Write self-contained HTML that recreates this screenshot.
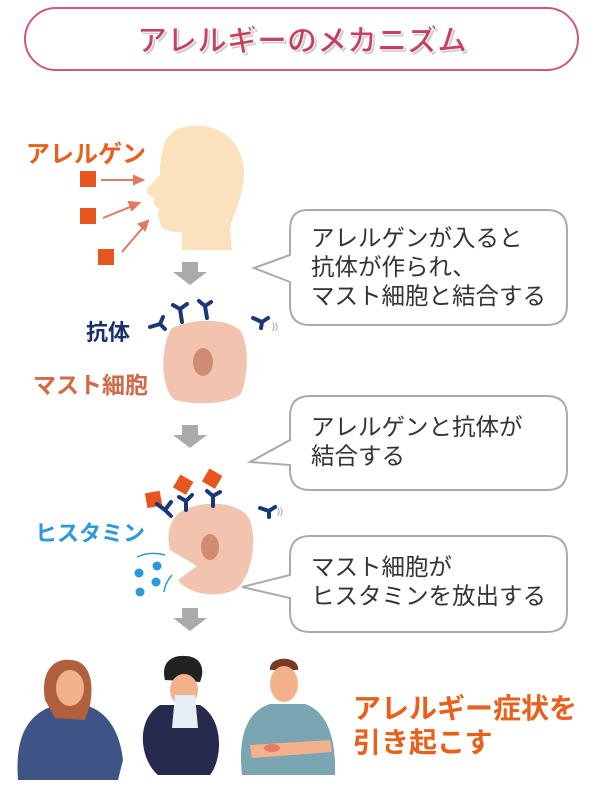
<!DOCTYPE html>
<html><head><meta charset="utf-8"><style>
body{margin:0;background:#fff;width:600px;height:803px;overflow:hidden}
svg text{font-family:"Liberation Sans","Noto Sans CJK JP",sans-serif}
</style></head><body>
<svg width="600" height="803" viewBox="0 0 600 803" xmlns="http://www.w3.org/2000/svg">
<rect x="25" y="8" width="553" height="62" rx="31" fill="#fff" stroke="#d0587a" stroke-width="2"/>
<text x="302" y="51" text-anchor="middle" font-size="30" font-weight="bold" fill="#ccc" transform="translate(2,2)">アレルギーのメカニズム</text>
<text x="302" y="51" text-anchor="middle" font-size="30" font-weight="bold" fill="#c8405f" stroke="#fff" stroke-width="1">アレルギーのメカニズム</text>

<path d="M180,128 C215,118 245,140 244,175 C243,200 232,215 230,230 L232,250 L182,250 L182,232 C170,232 158,230 160,220 C156,215 158,212 160,210 C154,206 152,202 155,198 C148,195 145,192 148,188 L160,175 C160,150 165,133 180,128 Z" fill="#fbe2bd"/>
<text x="26" y="162" font-size="24" font-weight="bold" fill="#e8601c">アレルゲン</text>
<rect x="80" y="171" width="16" height="16" fill="#e8561f"/>
<rect x="80" y="208" width="16" height="16" fill="#e8561f"/>
<rect x="98" y="249" width="16" height="16" fill="#e8561f"/>
<g stroke="#e07a60" stroke-width="2" fill="#e07a60">
<line x1="101" y1="180" x2="140" y2="180"/><path d="M143,180 l-9,-4 v8z"/>
<line x1="103" y1="218" x2="135" y2="205"/><path d="M139,203 l-10,-1 3,8z"/>
<line x1="122" y1="252" x2="145" y2="225"/><path d="M148,221 l-9,3 6,6z"/>
</g>

<g fill="#aaa">
<path d="M182,262 h16 v10 h9 l-17,13 -17,-13 h9z"/>
<path d="M182,425 h16 v10 h9 l-17,13 -17,-13 h9z"/>
<path d="M182,608 h16 v10 h9 l-17,13 -17,-13 h9z"/>
</g>

<g fill="#fff" stroke="#aaa" stroke-width="2">
<path d="M307,210 H547 Q567,210 567,230 V305 Q567,325 547,325 H310 Q290,325 290,305 V282 L254,268 L290,255 V230 Q290,210 307,210Z"/>
<path d="M310,396 H547 Q567,396 567,416 V470 Q567,490 547,490 H310 Q290,490 290,470 V465 L250,462 L290,440 V416 Q290,396 310,396Z"/>
<path d="M310,536 H547 Q567,536 567,556 V612 Q567,632 547,632 H310 Q290,632 290,612 V598 L242,587 L290,575 V556 Q290,536 310,536Z"/>
</g>
<g font-size="23.5" fill="#333">
<text x="311" y="246">アレルゲンが入ると</text>
<text x="311" y="275">抗体が作られ、</text>
<text x="311" y="304">マスト細胞と結合する</text>
<text x="311" y="435">アレルゲンと抗体が</text>
<text x="311" y="464">結合する</text>
<text x="311" y="575">マスト細胞が</text>
<text x="311" y="604">ヒスタミンを放出する</text>
</g>

<path d="M172,328 C195,318 225,318 240,330 C250,345 248,380 240,395 C225,405 195,405 175,400 C160,390 160,345 172,328Z" fill="#f2c3ae"/>
<ellipse cx="203" cy="362" rx="10" ry="14" fill="#d08c72"/>
<text x="86" y="340" font-size="22" font-weight="bold" fill="#1a2f6b">抗体</text>
<text x="33" y="393" font-size="23" font-weight="bold" fill="#d06a47">マスト細胞</text>
<g stroke="#1a3878" stroke-width="4" fill="none" stroke-linecap="round">
<path d="M150,327 l10,-3 l5,5 M160,324 l3,-7"/>
<path d="M182,322 l-2,-13 M180,309 l-7,-4 M180,309 l7,-5"/>
<path d="M207,318 l-2,-12 M205,306 l-6,-5 M205,306 l6,-4"/>
<path d="M253,318 l9,4 M262,322 l6,-4 M262,322 l-1,6"/>
</g>
<text x="272" y="329" font-size="9" fill="#88a">))</text>

<path d="M180,512 C200,500 240,500 250,520 C258,545 250,580 235,590 C215,598 190,595 178,580 L197,566 L170,550 C166,535 170,520 180,512Z" fill="#f2c3ae"/>
<ellipse cx="210" cy="547" rx="9" ry="13" fill="#d08c72"/>
<g fill="#e8561f">
<rect x="146" y="492" width="15" height="15" transform="rotate(-10 153 499)"/>
<rect x="176" y="477" width="15" height="15" transform="rotate(30 183 484)"/>
<rect x="205" y="471" width="15" height="15" transform="rotate(30 212 478)"/>
</g>
<g stroke="#1a3878" stroke-width="4" fill="none" stroke-linecap="round">
<path d="M165,510 l-8,-6 M165,510 l6,-8 M165,510 l6,6"/>
<path d="M186,510 l0,-9 M186,501 l-7,-4 M186,501 l6,-6"/>
<path d="M213,506 l0,-10 M213,496 l-6,-5 M213,496 l7,-4"/>
<path d="M260,508 l9,3 M269,511 l6,-4 M269,511 l0,6"/>
</g>
<text x="277" y="514" font-size="9" fill="#88a">))</text>
<text x="35" y="541" font-size="22" font-weight="bold" fill="#2a9ad8">ヒスタミン</text>
<path d="M137,557 Q150,551 165,555" stroke="#2a9ad8" stroke-width="1.5" fill="none"/>
<path d="M172,575 Q165,583 164,592" stroke="#2a9ad8" stroke-width="1.5" fill="none"/>
<g fill="#2a9ad8">
<circle cx="139" cy="573" r="4.5"/><circle cx="157" cy="566" r="4.5"/>
<circle cx="156" cy="582" r="4.5"/><circle cx="140" cy="592" r="4.5"/>
</g>

<g>
<path d="M18,780 C15,740 25,715 55,705 L85,705 C110,712 120,735 123,760 L118,780Z" fill="#3e5486"/>
<path d="M45,700 C40,670 55,658 70,660 C88,660 95,680 90,705 L85,720 L55,718Z" fill="#b0603c"/>
<ellipse cx="70" cy="688" rx="14" ry="18" fill="#f3b18c"/>
<path d="M158,775 C140,760 135,720 160,705 L200,705 C225,720 222,760 210,775Z" fill="#262a4c"/>
<path d="M165,680 C160,660 175,655 185,656 C200,656 206,668 200,682Z" fill="#222"/>
<ellipse cx="184" cy="690" rx="14" ry="16" fill="#f3b18c"/>
<path d="M175,695 L195,695 L198,728 L172,728Z" fill="#e5eef2"/>
<path d="M242,775 C238,740 245,712 270,704 L305,704 C330,712 336,745 335,775Z" fill="#79a6b2"/>
<path d="M270,670 C268,655 300,655 298,670Z" fill="#7a3a22"/>
<ellipse cx="284" cy="684" rx="14" ry="18" fill="#f3b18c"/>
<path d="M250,745 L330,740 L332,752 L252,758Z" fill="#f3b18c"/>
<ellipse cx="272" cy="748" rx="8" ry="4" fill="#e8605a" opacity=".7"/>
</g>
<g font-size="28" font-weight="bold" fill="#e8601c">
<text x="353" y="718">アレルギー症状を</text>
<text x="353" y="752">引き起こす</text>
</g>
</svg>
</body></html>
